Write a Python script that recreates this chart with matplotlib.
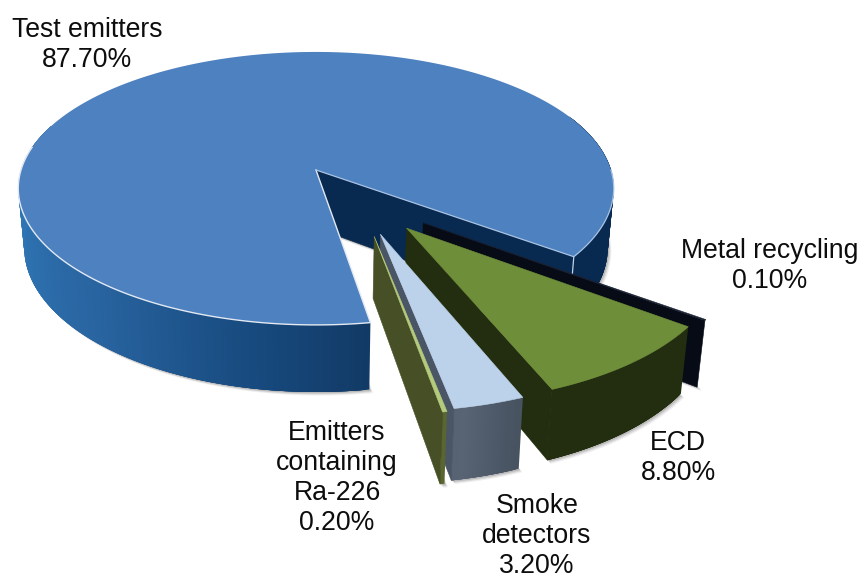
## exploded 3D pie of the source shares, drawn by hand with a simple perspective projection

import matplotlib
matplotlib.use("Agg")
import matplotlib.pyplot as plt
import numpy as np
from matplotlib.colors import to_rgb

plt.rcParams['font.family'] = ['Liberation Sans', 'DejaVu Sans']

names = ["Test emitters", "Metal recycling", "ECD", "Smoke\ndetectors", "Emitters\ncontaining\nRa-226"]
shares = [87.7, 0.1, 8.8, 3.2, 0.2]
share_labels = ["87.70%", "0.10%", "8.80%", "3.20%", "0.20%"]

# projection of the pie plane
cx, cy = 316.0, 170.0
rx, ry = 295.0, 134.0
persp = 0.135
height = 58.0
squeeze = 0.02
start = 80.8

# slice offsets in the pie plane
offsets = [(0.0, 0.0), (0.345, 0.375), (0.29, 0.41), (0.205, 0.45), (0.185, 0.465)]
top_colors = ["#4e81bf", "#1a2233", "#6f8e3a", "#bcd2ea", "#b5cb7c"]
side_colors = ["#082950", "#060b16", "#232e10", "#4a5566", "#474f27"]
label_pos = [(87, 45), (770, 266), (678, 458), (537, 536), (337, 478)]


def project(u, v, depth=0.0):
    w = 1 - persp * v
    x = cx + rx * u / w * (1 - squeeze * depth)
    y = cy + (ry * v + height * depth) / w
    return x, y


def arc(t0, t1, off, depth=0.0, n=None):
    if n is None:
        n = max(int(abs(t1 - t0)) + 2, 3)
    t = np.radians(np.linspace(t0, t1, n))
    return project(np.cos(t) + off[0], np.sin(t) + off[1], depth)


def fill(ax, xs, ys, color, **kw):
    ax.fill(xs, ys, color=color, lw=kw.pop("lw", 0.4), **kw)


def rim(ax, t0, t1, off, shade, z=1):
    # outer wall as narrow overlapping strips so the shading can change along it
    for a in np.arange(t0, t1, 0.5):
        b = min(a + 2.0, t1)
        x0, y0 = arc(a, b, off, 0, 4)
        x1, y1 = arc(a, b, off, 1, 4)
        ax.fill(np.r_[x0, x1[::-1]], np.r_[y0, y1[::-1]], color=shade(a), lw=0, zorder=z)


def ramp(stops):
    angles = [s[0] for s in stops]
    cols = np.array([to_rgb(s[1]) for s in stops])

    def shade(a):
        return tuple(np.interp(a, angles, cols[:, i]) for i in range(3))
    return shade


def shadow(ax, t0, t1, off, z=1):
    xa, ya = project(off[0], off[1], 1)
    xb, yb = arc(t0, t1, off, 1)
    for d, alpha in zip([5, 3.5, 2], [0.10, 0.16, 0.22]):
        ax.fill(np.r_[xa, xb] + d * 0.7, np.r_[ya, yb] + d * 0.7, color="#5a5a5a", alpha=alpha, lw=0, zorder=z)


fig = plt.figure(figsize=(8.6, 5.79), dpi=100)
ax = fig.add_axes([0, 0, 1, 1])
ax.set_xlim(0, 860)
ax.set_ylim(579, 0)
ax.axis("off")

# slice limits, running clockwise on screen
edges = start + np.cumsum(np.r_[0, shares]) * 3.6
spans = [(edges[i], edges[i + 1]) for i in range(len(shares))]
# the later slices wrap past the first one
spans = [(a % 360 if i else a, (a % 360 if i else a) + (b - a)) for i, (a, b) in enumerate(spans)]

shade_main = ramp([(81, "#123a66"), (100, "#174a7e"), (130, "#28639f"), (165, "#2f74b3"), (200, "#2f78b8")])

# first slice: shadow, wall, cut face, top
t0, t1 = spans[0]
shadow(ax, t0, t1, offsets[0])
rim(ax, t0, 200, offsets[0], shade_main)
rim(ax, 335, t1, offsets[0], lambda a: to_rgb(side_colors[0]))

xa, ya = project(0, 0, 0)
xa2, ya2 = project(0, 0, 1)
xe, ye = arc(t1, t1, offsets[0], 0, 2)
xe2, ye2 = arc(t1, t1, offsets[0], 1, 2)
fill(ax, [xa, xe[0], xe2[0], xa2], [ya, ye[0], ye2[0], ya2], side_colors[0])
ax.plot([xe[0], xe2[0]], [ye[0], ye2[0]], color="#c3d2e6", lw=0.9, zorder=1)

xs, ys = arc(t0, t1, offsets[0])
ax.fill(np.r_[xa, xs], np.r_[ya, ys], color=top_colors[0], lw=0, zorder=1)
# pale highlight on the front rim and along both cuts
xf, yf = arc(t0, 190, offsets[0])
ax.plot(np.r_[xa, xf], np.r_[ya, yf], color="#e2e9f3", lw=1.0, zorder=1)
xb, yb = arc(360, t1, offsets[0])
ax.plot(np.r_[xb, xa], np.r_[yb, ya], color="#a9c3e3", lw=0.9, zorder=1)

walls = [
    None,
    None,
    lambda a: to_rgb(side_colors[2]),
    ramp([(68, "#47525f"), (72, "#4c5767"), (78, "#586474"), (81, "#566272")]),
    lambda a: to_rgb("#5a6630"),
]

# exploded slices, back to front
for i in range(1, len(shares)):
    z = 2 + i
    t0, t1 = spans[i]
    off = offsets[i]
    shadow(ax, t0, t1, off, z)
    if walls[i] is not None:
        rim(ax, t0, t1, off, walls[i], z)
    xa, ya = project(off[0], off[1], 0)
    xa2, ya2 = project(off[0], off[1], 1)
    xe, ye = arc(t1, t1, off, 0, 2)
    xe2, ye2 = arc(t1, t1, off, 1, 2)
    # cut face turned towards the viewer
    fill(ax, [xa, xe[0], xe2[0], xa2], [ya, ye[0], ye2[0], ya2], side_colors[i], zorder=z)
    xs, ys = arc(t0, t1, off)
    fill(ax, np.r_[xa, xs], np.r_[ya, ys], top_colors[i], zorder=z)

for name, value, pos in zip(names, share_labels, label_pos):
    ax.text(pos[0], pos[1], name + "\n" + value, ha="center", va="center",
            fontsize=19.2, color="#0d0d0d", linespacing=1.2, zorder=10)

plt.savefig("out.png", dpi=100)
